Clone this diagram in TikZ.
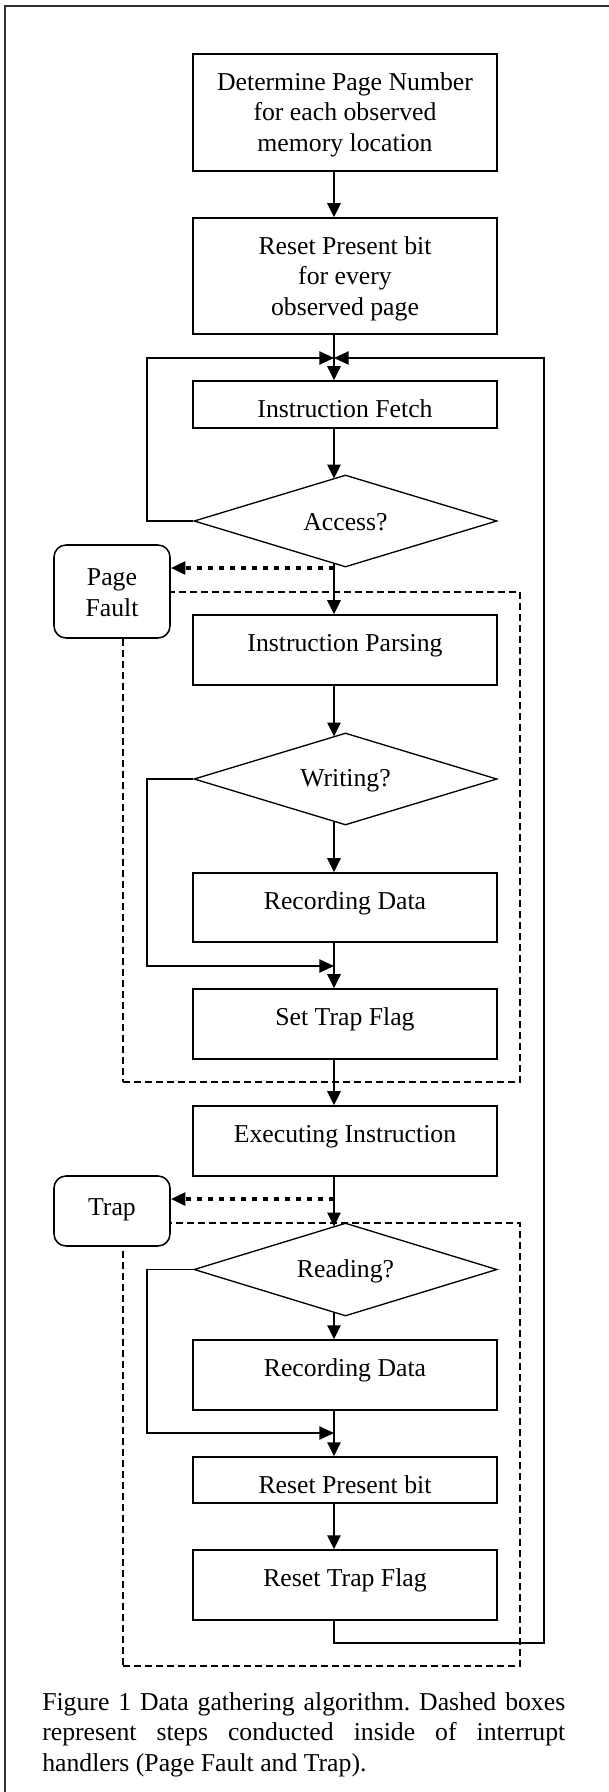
\documentclass[tikz,border=0pt]{standalone}
\usepackage{fontspec}
\setmainfont{Liberation Serif}
\usetikzlibrary{shapes.geometric,arrows.meta,fit,calc}
\begin{document}
\frenchspacing
\begin{tikzpicture}[x=0.75pt,y=-0.75pt,
  box/.style={draw, line width=1.15pt, inner sep=0pt, fill=white},
  rbox/.style={draw, line width=1.15pt, inner sep=0pt, rounded corners=9pt, fill=white},
  dia/.style={draw, diamond, line width=1pt, inner sep=0pt, minimum width=227.25pt},
  txt/.style={inner sep=0pt, font=\fontsize{19.3pt}{23pt}\selectfont, align=center},
  arr/.style={line width=1.3pt, -{Triangle[length=10.5pt,width=10pt]}},
  looparr/.style={line width=1.05pt, -{Triangle[length=11pt,width=10pt]}},
  dotarr/.style={line width=3.2pt, dash pattern=on 3.75pt off 4.5pt, -{Triangle[length=11pt,width=9.5pt]}},
  dashbox/.style={draw, line width=1pt, dash pattern=on 5.25pt off 3pt, inner sep=0pt},
]
\useasboundingbox (0,0) rectangle (609,1792);
\draw[line width=1.3pt, black!80] (5,1792) -- (5,6) -- (609,6);

\coordinate (ax) at (334,0);

% dashed handler regions
\node[dashbox, fit={(123,592)(520,1082)}] (h1) {};
\node[dashbox, fit={(123,1223)(520,1666)}] (h2) {};

% boxes
\node[box, fit={(193,54)(497,171)}] (b1) {};
\node[box, fit={(193,218)(497,334)}] (b2) {};
\node[box, fit={(193,381)(497,428)}] (b3) {};
\node[dia, minimum height=69pt] (d1) at (345.5,521) {};
\node[box, fit={(193,615)(497,685)}] (b4) {};
\node[dia, minimum height=69pt] (d2) at (345.5,779) {};
\node[box, fit={(193,873)(497,942)}] (b5) {};
\node[box, fit={(193,989)(497,1059)}] (b6) {};
\node[box, fit={(193,1106)(497,1176)}] (b7) {};
\node[dia, minimum height=69.75pt] (d3) at (345.5,1269.5) {};
\node[box, fit={(193,1340)(497,1410)}] (b8) {};
\node[box, fit={(193,1457)(497,1503)}] (b9) {};
\node[box, fit={(193,1550)(497,1620)}] (b10) {};
\node[rbox, fit={(54,545)(170,638)}] (pf) {};
\node[rbox, fit={(54,1176)(170,1246)}] (tr) {};

% texts
\node[txt, anchor=north] (t1) at (345,68.5) {\strut Determine Page Number\\for each observed\\memory location};
\node[txt, anchor=north] (t2) at (345,232.5) {\strut Reset Present bit\\for every\\observed page};
\node[txt, anchor=base] (t3) at (345,417) {Instruction Fetch};
\node[txt, anchor=base] (t4) at (345.5,530.5) {Access?};
\node[txt, anchor=north] (t5) at (112,564) {\strut Page\\Fault};
\node[txt, anchor=base] (t6) at (345,651) {Instruction Parsing};
\node[txt, anchor=base] (t7) at (345.5,786.5) {Writing?};
\node[txt, anchor=base] (t8) at (345,909) {Recording Data};
\node[txt, anchor=base] (t9) at (345,1025) {Set Trap Flag};
\node[txt, anchor=base] (t10) at (345,1142) {Executing Instruction};
\node[txt, anchor=base] (t11) at (112,1215.5) {Trap};
\node[txt, anchor=base] (t12) at (345.5,1277.5) {Reading?};
\node[txt, anchor=base] (t13) at (345,1376) {Recording Data};
\node[txt, anchor=base] (t14) at (345,1493) {Reset Present bit};
\node[txt, anchor=base] (t15) at (345,1586) {Reset Trap Flag};

\node[txt, anchor=north west, text width=392.25pt, align=justify] (cap) at (42,1688.5)
  {\strut Figure 1 Data gathering algorithm. Dashed boxes\linebreak represent steps conducted inside of interrupt\linebreak handlers (Page Fault and Trap).};

% connectors
\coordinate (jn) at (334,358);
\coordinate (ll) at (147,358);
\coordinate (rr) at (544,1643);
\draw[arr] (b1.south -| ax) -- (b2.north -| ax);
\draw[arr] (b2.south -| ax) -- (b3.north -| ax);
\draw[looparr] (d1.west) -| (ll) -- (jn);
\draw[looparr] (b10.south -| ax) |- (rr) |- (jn);
\draw[arr] (b3.south -| ax) -- ($(d1.center -| ax)+(0,-42.5)$);
\draw[arr] ($(d1.center -| ax)+(0,42.5)$) -- (b4.north -| ax);
\coordinate (pj) at (334,568);
\draw[dotarr] (pj) -- (pj -| pf.east);
\draw[arr] (b4.south -| ax) -- ($(d2.center -| ax)+(0,-42.5)$);
\draw[arr] ($(d2.center -| ax)+(0,42.5)$) -- (b5.north -| ax);
\coordinate (w1) at (147,966);
\coordinate (w2) at (334,966);
\draw[looparr] (d2.west) -| (w1) -- (w2);
\draw[arr] (b5.south -| ax) -- (b6.north -| ax);
\draw[arr] (b6.south -| ax) -- (b7.north -| ax);
\draw[arr] (b7.south -| ax) -- ($(d3.center -| ax)+(0,-43)$);
\coordinate (tj) at (334,1199);
\draw[dotarr] (tj) -- (tj -| tr.east);
\draw[arr] ($(d3.center -| ax)+(0,43)$) -- (b8.north -| ax);
\coordinate (r1) at (147,1433);
\coordinate (r2) at (334,1433);
\draw[looparr] (d3.west) -| (r1) -- (r2);
\draw[arr] (b8.south -| ax) -- (b9.north -| ax);
\draw[arr] (b9.south -| ax) -- (b10.north -| ax);
\end{tikzpicture}
\end{document}
